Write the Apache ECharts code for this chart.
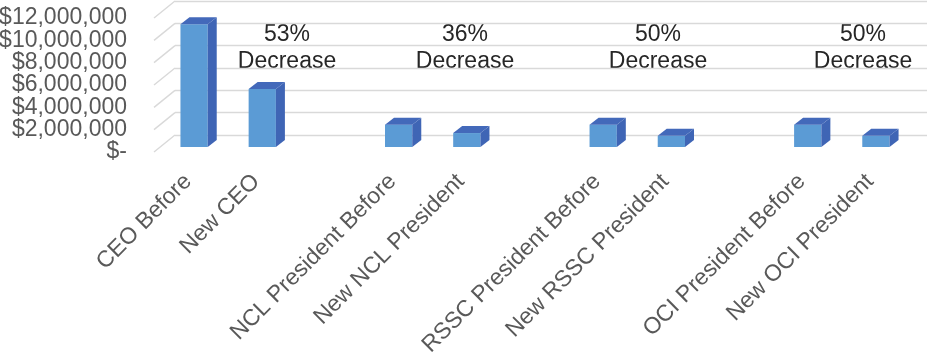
<!DOCTYPE html>
<html>
<head>
<meta charset="utf-8">
<script src="https://cdn.jsdelivr.net/npm/echarts@6/dist/echarts.min.js"></script>
<style>
html,body{margin:0;padding:0;background:#fff;}
#chart{width:927px;height:352px;}
</style>
</head>
<body>
<div id="chart"></div>
<script>
// ---- data ----
var categories = ['CEO Before', 'New CEO', '', 'NCL President Before', 'New NCL President', ' ',
                  'RSSC President Before', 'New RSSC President', '  ', 'OCI President Before', 'New OCI President'];
var compensation = [11000000, 5200000, null, 2000000, 1250000, null, 2000000, 1000000, null, 2000000, 1000000];
var yTicks = [0, 2000000, 4000000, 6000000, 8000000, 10000000, 12000000];
var annotationPct = ['53%', '36%', '50%', '50%'];
var annotationWord = 'Decrease';

// ---- style constants ----
var FONT = 'Liberation Sans, Arial, sans-serif';
var BAR_DX = 9, BAR_DY = 7;       // bar depth
var WALL_DX = 21, WALL_DY = 17;   // full depth front plane -> back wall
var FRONT_FACE = '#5B9BD5', SIDE_FACE = '#3F65B5', TOP_FACE = '#4369BA';
var GRID_COLOR = '#D9D9D9';
var LABEL_COLOR = '#595959';
var annoX = [287, 465, 658, 863];

function fmtMoney(v) {
  if (v === 0) return '$-';
  return '$' + String(v).replace(/\B(?=(\d{3})+(?!\d))/g, ',');
}

var barData = [];
compensation.forEach(function (v, i) { if (v !== null) barData.push([i, v]); });
var tickData = yTicks.map(function (v) { return [0, v]; });

var graphics = annotationPct.map(function (p, i) {
  return {
    type: 'text', x: annoX[i], y: 21,
    style: { text: p + '\n' + annotationWord, font: '23px ' + FONT, fill: '#262626',
             textAlign: 'center', lineHeight: 27 }
  };
});

var chart = echarts.init(document.getElementById('chart'), null, {renderer: 'canvas'});
var option = {
  animation: false,
  grid: [
    { left: 160, right: 17, top: 13, bottom: 205, containLabel: false, outerBoundsMode: 'none' },   // bar plane
    { left: 154, right: 23, top: 18, bottom: 200, containLabel: false, outerBoundsMode: 'none' },   // front plane
    { left: 175, right: 0, top: 1, bottom: 217, containLabel: false, outerBoundsMode: 'none' }      // back wall
  ],
  xAxis: [
    { type: 'category', gridIndex: 0, data: categories, boundaryGap: true,
      axisLine: {show: false}, axisTick: {show: false}, axisLabel: {show: false} },
    { type: 'category', gridIndex: 1, data: categories, boundaryGap: true,
      axisLine: {show: false}, axisTick: {show: false},
      axisLabel: { interval: 0, rotate: 45, margin: 26, color: LABEL_COLOR, fontSize: 23, fontFamily: FONT,
                   hideOverlap: false } },
    { type: 'category', gridIndex: 2, data: categories, show: false }
  ],
  yAxis: [
    { type: 'value', gridIndex: 0, min: 0, max: 12000000, interval: 2000000, show: false, splitLine: {show: false} },
    { type: 'value', gridIndex: 1, min: 0, max: 12000000, interval: 2000000,
      axisLine: {show: false}, axisTick: {show: false}, splitLine: {show: false}, axisLabel: {show: false} },
    { type: 'value', gridIndex: 2, min: 0, max: 12000000, interval: 2000000,
      axisLine: {show: false}, axisTick: {show: false}, axisLabel: {show: false},
      splitLine: { show: true, lineStyle: { color: GRID_COLOR, width: 1.4 } } }
  ],
  series: [
    { // side-wall slanted grid lines + value labels on the front plane
      type: 'custom', xAxisIndex: 1, yAxisIndex: 1, silent: true, z: 1,
      data: tickData,
      renderItem: function (params, api) {
        var v = api.value(1);
        var c = api.coord([api.value(0), v]);
        var left = c[0] - api.size([1, 0])[0] / 2;
        return { type: 'group', children: [
          { type: 'line', shape: { x1: left, y1: c[1], x2: left + WALL_DX, y2: c[1] - WALL_DY },
            style: { stroke: GRID_COLOR, lineWidth: 1.4 } },
          { type: 'text', x: left - 27, y: c[1],
            style: { text: fmtMoney(v), font: '23px ' + FONT, fill: LABEL_COLOR,
                     textAlign: 'right', textVerticalAlign: 'middle' } }
        ]};
      }
    },
    { // 3D bars
      type: 'custom', xAxisIndex: 0, yAxisIndex: 0, z: 5,
      data: barData,
      renderItem: function (params, api) {
        var topP = api.coord([api.value(0), api.value(1)]);
        var baseP = api.coord([api.value(0), 0]);
        var bw = api.size([1, 0])[0] * 0.40;
        var x0 = topP[0] - bw / 2, x1 = x0 + bw, yt = topP[1], yb = baseP[1];
        return { type: 'group', children: [
          { type: 'rect', shape: { x: x0, y: yt, width: bw, height: yb - yt }, style: { fill: FRONT_FACE } },
          { type: 'polygon', shape: { points: [[x1, yt], [x1 + BAR_DX, yt - BAR_DY], [x1 + BAR_DX, yb - BAR_DY], [x1, yb]] },
            style: { fill: SIDE_FACE } },
          { type: 'polygon', shape: { points: [[x0, yt], [x0 + BAR_DX, yt - BAR_DY], [x1 + BAR_DX, yt - BAR_DY], [x1, yt]] },
            style: { fill: TOP_FACE } }
        ]};
      }
    }
  ],
  graphic: graphics
};
chart.setOption(option);
</script>
</body>
</html>
